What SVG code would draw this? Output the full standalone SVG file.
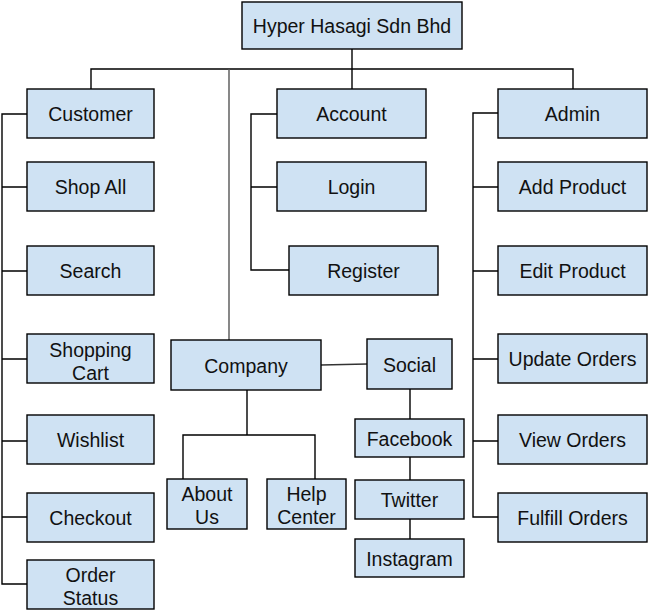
<svg xmlns="http://www.w3.org/2000/svg" width="648" height="610" viewBox="0 0 648 610">
<style>
.n rect{fill:#cfe2f3;stroke:#000;stroke-width:1.4}
.n text{font-family:"Liberation Sans",Arial,sans-serif;font-size:19.5px;fill:#111;text-anchor:middle}
.c path{fill:none;stroke:#000;stroke-width:1.4}
</style>
<rect width="648" height="610" fill="#fff"/>
<g class="c" id="connectors">
<path d="M352 49 V89"/>
<path d="M91 89 V69 H573 V89"/>
<path d="M229 69 V340" style="stroke:#555"/>
<path d="M27 114 H2 V584 H27 M2 187 H27 M2 271 H27 M2 359 H27 M2 441 H27 M2 517 H27"/>
<path d="M277 114 H251 V270 H289 M251 187 H277"/>
<path d="M498 113 H473 V517 H498 M473 187 H498 M473 271 H498 M473 359 H498 M473 441 H498"/>
<path d="M321 365 L367 364" style="stroke:#333"/>
<path d="M247 390 V435 M183 479 V435 H315 V479"/>
<path d="M410 389 V419 M410 457 V480 M410 519 V539"/>
</g>
<g class="n" id="root"><rect x="242" y="2" width="220" height="47"/><text x="352" y="33">Hyper Hasagi Sdn Bhd</text></g>
<g class="n" id="customer"><rect x="27" y="89" width="127" height="49"/><text x="90.5" y="121">Customer</text></g>
<g class="n" id="account"><rect x="277" y="89" width="149" height="49"/><text x="351.5" y="121">Account</text></g>
<g class="n" id="admin"><rect x="498" y="89" width="149" height="49"/><text x="572.5" y="121">Admin</text></g>
<g class="n" id="shopall"><rect x="27" y="162" width="127" height="49"/><text x="90.5" y="194">Shop All</text></g>
<g class="n" id="search"><rect x="27" y="246" width="127" height="49"/><text x="90.5" y="278">Search</text></g>
<g class="n" id="cart"><rect x="27" y="334" width="127" height="49"/><text x="90.5" y="356.5">Shopping</text><text x="90.5" y="379.5">Cart</text></g>
<g class="n" id="wishlist"><rect x="27" y="415" width="127" height="49"/><text x="90.5" y="447">Wishlist</text></g>
<g class="n" id="checkout"><rect x="27" y="493" width="127" height="49"/><text x="90.5" y="525">Checkout</text></g>
<g class="n" id="orderstatus"><rect x="27" y="560" width="127" height="49"/><text x="90.5" y="581.5">Order</text><text x="90.5" y="604.5">Status</text></g>
<g class="n" id="login"><rect x="277" y="162" width="149" height="49"/><text x="351.5" y="194">Login</text></g>
<g class="n" id="register"><rect x="289" y="246" width="149" height="49"/><text x="363.5" y="278">Register</text></g>
<g class="n" id="addproduct"><rect x="498" y="162" width="149" height="49"/><text x="572.5" y="194">Add Product</text></g>
<g class="n" id="editproduct"><rect x="498" y="246" width="149" height="49"/><text x="572.5" y="278">Edit Product</text></g>
<g class="n" id="updateorders"><rect x="498" y="334" width="149" height="49"/><text x="572.5" y="366">Update Orders</text></g>
<g class="n" id="vieworders"><rect x="498" y="415" width="149" height="49"/><text x="572.5" y="447">View Orders</text></g>
<g class="n" id="fulfillorders"><rect x="498" y="493" width="149" height="49"/><text x="572.5" y="525">Fulfill Orders</text></g>
<g class="n" id="company"><rect x="171" y="340" width="150" height="50"/><text x="246" y="372.5">Company</text></g>
<g class="n" id="social"><rect x="367" y="339" width="85" height="50"/><text x="409.5" y="371.5">Social</text></g>
<g class="n" id="aboutus"><rect x="167" y="479" width="80" height="50"/><text x="207" y="501">About</text><text x="207" y="524">Us</text></g>
<g class="n" id="helpcenter"><rect x="267" y="479" width="79" height="50"/><text x="306.5" y="501">Help</text><text x="306.5" y="524">Center</text></g>
<g class="n" id="facebook"><rect x="355" y="419" width="109" height="38"/><text x="409.5" y="445.5">Facebook</text></g>
<g class="n" id="twitter"><rect x="355" y="480" width="109" height="39"/><text x="409.5" y="507">Twitter</text></g>
<g class="n" id="instagram"><rect x="355" y="539" width="109" height="38"/><text x="409.5" y="565.5">Instagram</text></g>
</svg>
